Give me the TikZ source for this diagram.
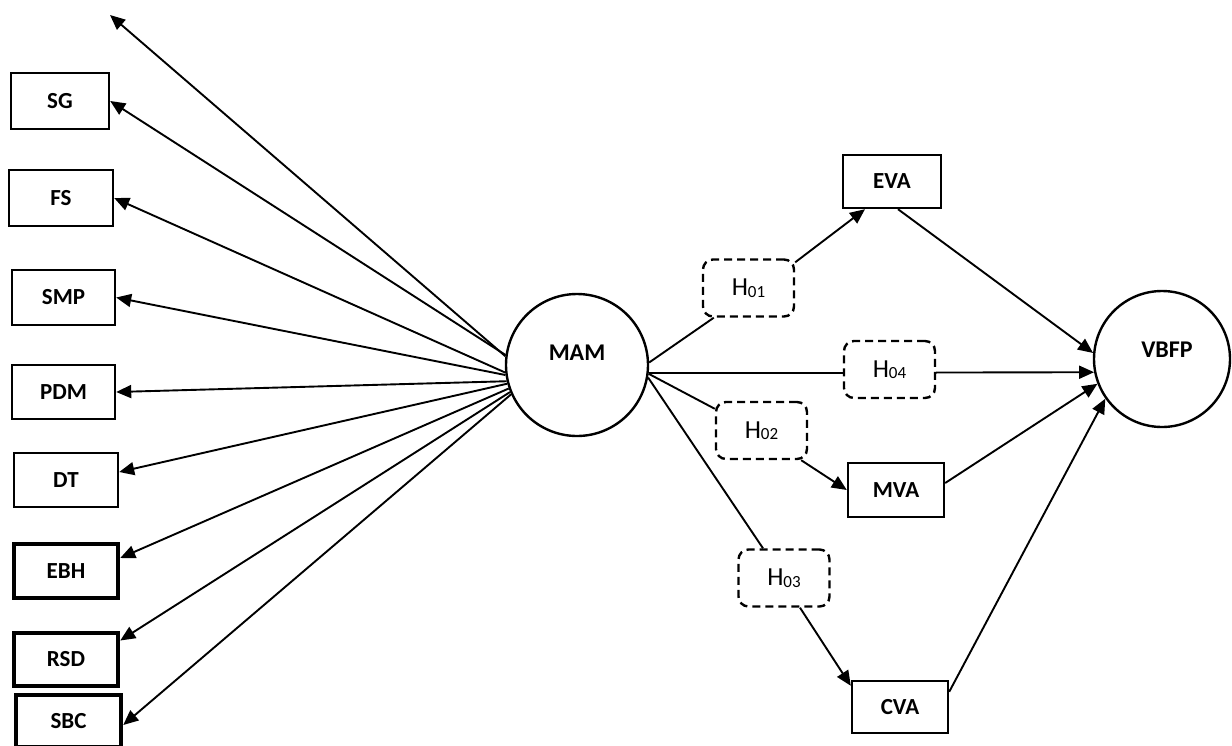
\documentclass[tikz,border=0pt]{standalone}
\usepackage{fontspec}
\setmainfont{Carlito}
\usetikzlibrary{arrows.meta}
\begin{document}
\begin{tikzpicture}[x=1pt,y=-1pt,
  box/.style={draw,line width=2.4pt,inner sep=0pt,font=\bfseries\fontsize{23}{27}\selectfont},
  thickbox/.style={box,line width=4.5pt},
  hyp/.style={draw,dash pattern=on 8pt off 5pt,line width=2.4pt,rounded corners=10pt,minimum width=91pt,minimum height=57pt,inner sep=0pt,font=\fontsize{26}{30}\selectfont},
  circ/.style={draw,circle,line width=2.4pt,inner sep=0pt},
  lbl/.style={font=\bfseries\fontsize{24}{28}\selectfont,inner sep=0pt},
  arr/.style={line width=1.9pt,-{Triangle[length=15pt,width=13pt]}},
  ln/.style={line width=1.9pt}]
\newcommand{\hyptext}[1]{H\raisebox{-1.5pt}{\fontsize{17}{19}\selectfont #1}}
\useasboundingbox (0,0) rectangle (1232,745);
% left boxes
\node[box,minimum width=98pt,minimum height=56pt] (sg) at (60,101) {SG};
\node[box,minimum width=104pt,minimum height=56pt] (fs) at (61,198) {FS};
\node[box,minimum width=103pt,minimum height=55pt] (smp) at (63.5,297.5) {SMP};
\node[box,minimum width=103pt,minimum height=54pt] (pdm) at (63.5,392) {PDM};
\node[box,minimum width=104pt,minimum height=54pt] (dt) at (66,480) {DT};
\node[thickbox,minimum width=104pt,minimum height=54pt] (ebh) at (66,571) {EBH};
\node[thickbox,minimum width=104pt,minimum height=53pt] (rsd) at (66,659.5) {RSD};
\node[thickbox,minimum width=105pt,minimum height=52pt] (sbc) at (68.5,721) {SBC};
\coordinate (free) at (110,15);
% circles
\node[circ,minimum size=142pt] (mam) at (577,365) {};
\node[lbl] (mamtxt) at (577,353) {MAM};
\node[circ,minimum size=136pt] (vbfp) at (1162,359) {};
\node[lbl] (vbfptxt) at (1167,350) {VBFP};
% right boxes
\node[box,minimum width=98pt,minimum height=53pt] (eva) at (892,181.5) {EVA};
\node[box,minimum width=96pt,minimum height=54pt] (mva) at (896,490) {MVA};
\node[box,minimum width=96pt,minimum height=52pt] (cva) at (900,707) {CVA};
% hypotheses
\node[hyp] (h01) at (748.5,288) {\hyptext{01}};
\node[hyp] (h04) at (889.5,369.5) {\hyptext{04}};
\node[hyp] (h02) at (761.5,430.5) {\hyptext{02}};
\node[hyp] (h03) at (784,578) {\hyptext{03}};
% left fan
\draw[arr] (mam.173) -- (free);
\draw[arr] (mam.172) -- (sg.east);
\draw[arr] (mam.186) -- (fs.east);
\draw[arr] (mam.188) -- (smp.east);
\draw[arr] (mam.193) -- (pdm.east);
\draw[arr] (mam.195) -- ([yshift=8pt]dt.east);
\draw[arr] (mam.199) -- ([yshift=13pt]ebh.east);
\draw[arr] (mam.202) -- ([yshift=19pt]rsd.east);
\draw[arr] (mam.204) -- ([yshift=-4pt]sbc.east);
% right paths
\draw[ln] (mam.2) -- ([xshift=12pt]h01.south west);
\draw[arr] ([yshift=-4pt]h01.north east) -- ([xshift=-27pt]eva.south);
\draw[arr] ([xshift=6pt]eva.south) -- (vbfp.175);
\draw[ln] (mam.-6) -- (mam.-6 -| h04.west);
\draw[arr] (mam.-6 -| h04.east) -- (vbfp.191);
\draw[ln] (mam.-7) -- ([yshift=-8pt]h02.north west);
\draw[arr] ([xshift=-7pt]h02.south east) -- (mva.west);
\draw[arr] ([yshift=7pt]mva.east) -- (vbfp.201);
\draw[ln] (mam.-10) -- ([xshift=-21pt]h03.north);
\draw[arr] ([xshift=16pt]h03.south) -- ([yshift=-6pt]cva.north west);
\draw[arr] ([yshift=-12pt]cva.north east) -- (vbfp.215);
\end{tikzpicture}
\end{document}
